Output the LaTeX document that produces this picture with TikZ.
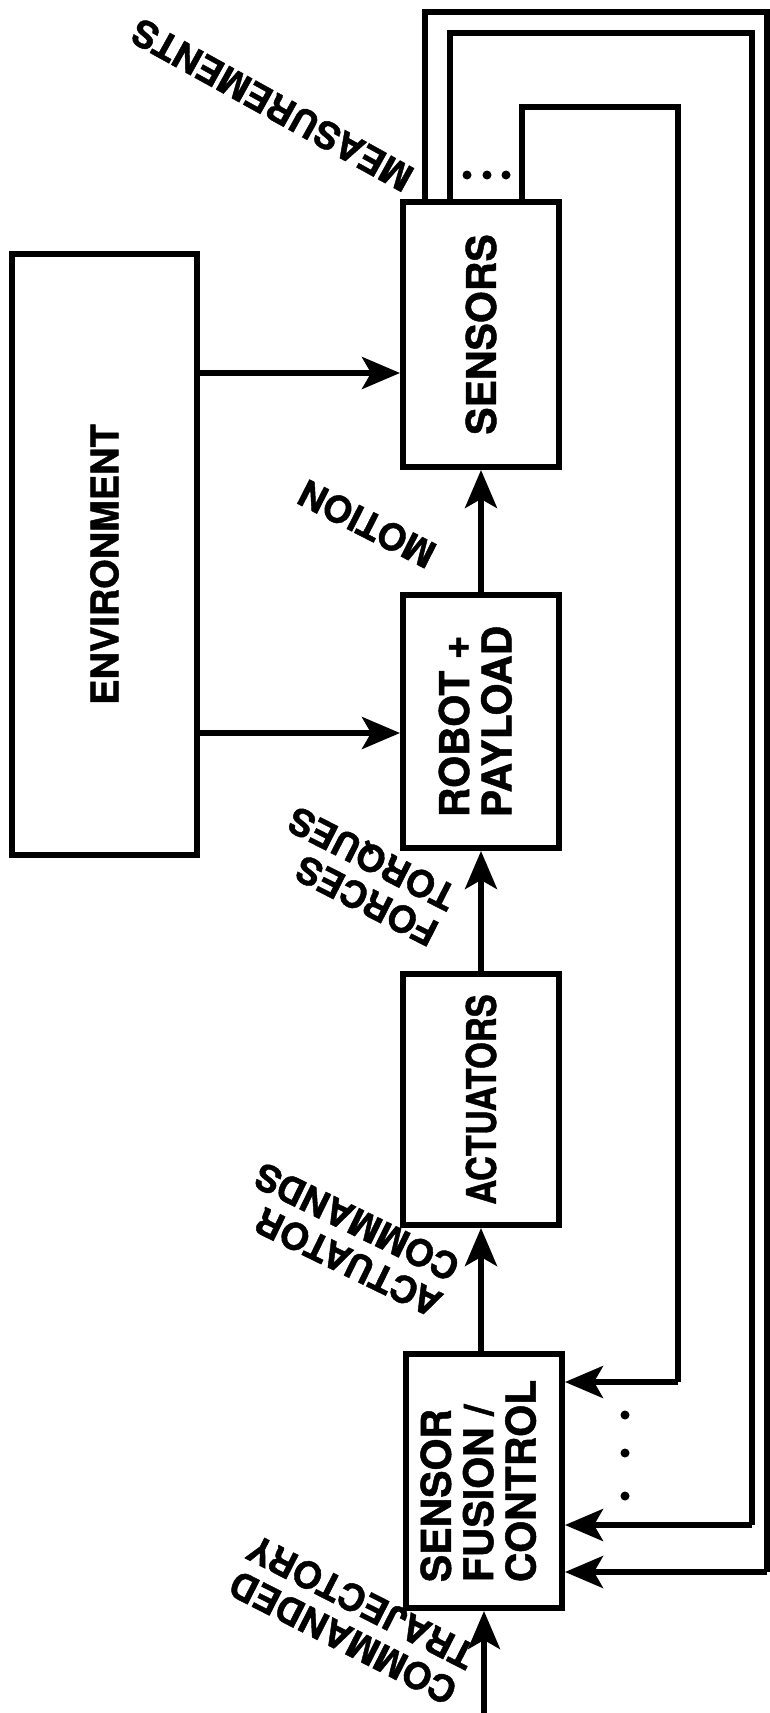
\documentclass[tikz,border=0pt]{standalone}
\usepackage{fontspec}
\setmainfont{TeX Gyre Heros}[BoldFeatures={FakeBold=1.2}]
\usetikzlibrary{arrows.meta}
\newcommand\dfont{\fontsize{37}{40}\selectfont\bfseries}
\newcommand\bfont{\fontsize{41}{40}\selectfont\bfseries}
\newcommand\efont{\fontsize{38}{40}\selectfont\bfseries}
\begin{document}
\begin{tikzpicture}[x=1pt,y=-1pt,
  box/.style={draw, line width=6pt, minimum width=156pt, inner sep=0pt, font=\bfont},
  arr/.style={line width=5.5pt, -{Stealth[length=38pt,width=32pt,inset=9pt]}},
  wire/.style={line width=5.5pt},
  lbl/.style={font=\dfont, align=left, inner sep=0pt},
  dot/.style={fill=black}
]
\useasboundingbox (0,0) rectangle (769,1713);
% boxes
\node[box, font=\efont, minimum height=601pt, minimum width=185pt] (env) at (104.5,554.5) {\rotatebox{90}{ENVIRONMENT\hspace{20pt}}};
\node[box, minimum height=265pt] (sens) at (481,334.5) {\rotatebox{90}{SENSORS}};
\node[box, minimum height=253pt] (rob) at (481,721.5) {\rotatebox{90}{\begin{tabular}{@{}l@{}}ROBOT +\\PAYLOAD\end{tabular}}};
\node[box, minimum height=251pt] (act) at (481,1099.5) {\rotatebox{90}{\scalebox{0.84}[1]{ACTUATORS}}};
\node[box, minimum height=254pt] (fus) at (484,1481) {\rotatebox{90}{\begin{tabular}{@{}l@{}}SENSOR\\FUSION /\\CONTROL\end{tabular}}};
\coordinate (cmdin) at (484,1713);
% forward connectors
\draw[arr] (cmdin) -- (fus.south);
\draw[arr] (fus.north -| act.south) -- (act.south);
\draw[arr] (act.north) -- (rob.south);
\draw[arr] (rob.north) -- (sens.south);
\draw[arr] (env.east |- 0,373) -- (sens.west |- 0,373);
\draw[arr] (env.east |- 0,733) -- (rob.west |- 0,733);
% feedback loops
\draw[wire] (sens.north -| 425,0) -- (425,12) -- (767,12) -- (767,1572);
\draw[arr] (767,1572) -- (fus.east |- 0,1572);
\draw[wire] (sens.north -| 450,0) -- (450,33) -- (752,33) -- (752,1525);
\draw[arr] (752,1525) -- (fus.east |- 0,1525);
\draw[wire] (sens.north -| 522,0) -- (522,107) -- (678,107) -- (678,1382);
\draw[arr] (678,1382) -- (fus.east |- 0,1382);
% dots
\fill[dot] (467,175) circle (4.5pt);
\fill[dot] (487,175) circle (4.5pt);
\fill[dot] (506,175) circle (4.5pt);
\fill[dot] (625,1415) circle (4.5pt);
\fill[dot] (625,1453) circle (4.5pt);
\fill[dot] (625,1496) circle (4.5pt);
% labels
\node[lbl, rotate=151] (meas) at (272,105) {MEASUREMENTS};
\node[lbl, rotate=153] (mot) at (367,524) {MOTION};
\node[lbl, rotate=153] (ft) at (363,876) {FORCES\\TORQUES};
\node[lbl, rotate=154] (ac) at (348,1240) {ACTUATOR\\COMMANDS};
\node[lbl, rotate=153] (ct) at (352,1620) {COMMANDED\\TRAJECTORY};
\end{tikzpicture}
\end{document}
